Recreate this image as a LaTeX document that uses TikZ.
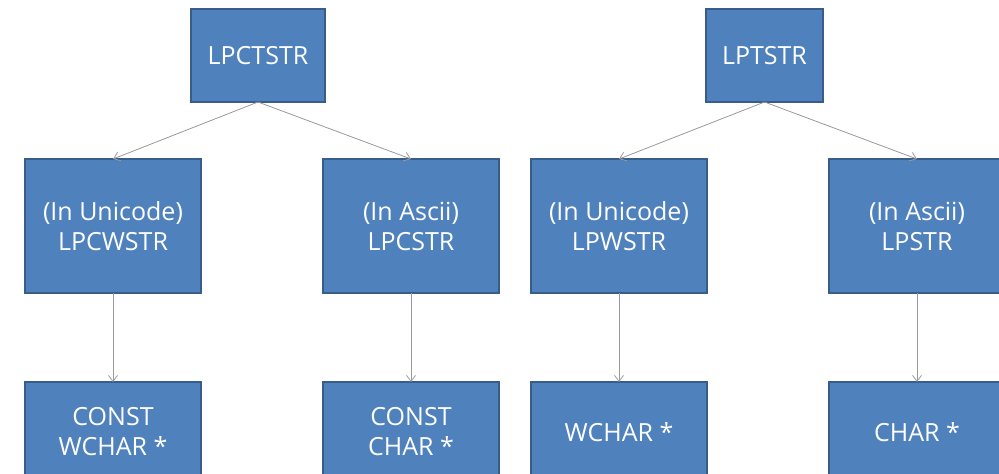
\documentclass[tikz,border=0pt]{standalone}
\usepackage{fontspec}
\setmainfont{Open Sans}
\usetikzlibrary{arrows.meta}
\definecolor{boxfill}{HTML}{4F81BD}
\definecolor{boxline}{HTML}{385D8A}
\definecolor{linkgray}{HTML}{9A9A9A}
\begin{document}
\begin{tikzpicture}[x=1pt, y=-1pt]

\clip (0,0) rectangle (999,474);
\fill[white] (0,0) rectangle (999,474);

\tikzset{every node/.style={rectangle, draw=boxline, fill=boxfill, line width=1.2pt, text=white, inner sep=0pt, outer sep=0pt, align=center, font=\fontsize{25}{30}\selectfont}}
\node[minimum width=134pt, minimum height=93pt] (11) at (258, 55.5) {LPCTSTR};
\node[minimum width=117pt, minimum height=93pt] (12) at (764.5, 55.5) {LPTSTR};
\tikzset{every node/.append style={minimum width=176pt, minimum height=134pt}}
\node (21) at (113, 226) {(In Unicode)\\LPCWSTR};
\node (22) at (411, 226) {(In Ascii)\\LPCSTR};
\node (23) at (619, 226) {(In Unicode)\\LPWSTR};
\node (24) at (917, 226) {(In Ascii)\\LPSTR};
\tikzset{every node/.append style={minimum height=100pt}}
\node (31) at (113, 432) {CONST\\WCHAR *};
\node (32) at (411, 432) {CONST\\CHAR *};
\node (33) at (619, 432) {WCHAR *};
\node (34) at (917, 432) {CHAR *};

\tikzset{every node/.style={}};
\tikzset{mystyle/.style={-{Straight Barb[length=6pt, width=9pt]}, draw=linkgray, line width=0.8pt}};
\path (11.south) edge [mystyle] (21.north);
\path (11.south) edge [mystyle] (22.north);
\path (12.south) edge [mystyle] (23.north);
\path (12.south) edge [mystyle] (24.north);
\path (21) edge [mystyle] (31);
\path (22) edge [mystyle] (32);
\path (23) edge [mystyle] (33);
\path (24) edge [mystyle] (34);
\end{tikzpicture}
\end{document}
